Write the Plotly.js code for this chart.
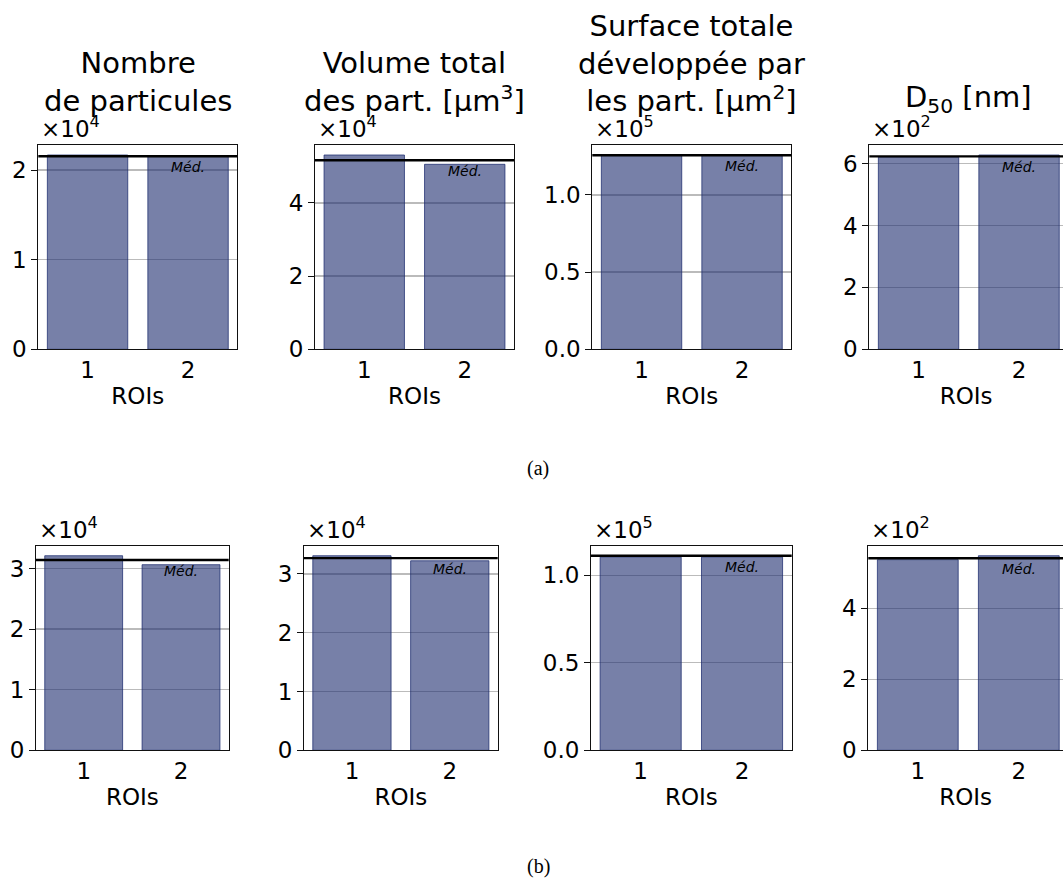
<!DOCTYPE html>
<html>
<head>
<meta charset="utf-8">
<script src="https://cdn.plot.ly/plotly-3.0.1.min.js"></script>
<style>html,body{margin:0;padding:0;background:#fff;}#chart{width:1063px;height:881px;}</style>
</head>
<body>
<div id="chart"></div>
<script>
// ---------- data ----------
const rois = [1, 2];
const roiLabels = ["1", "2"];
const panelTitles = [
  "Nombre<br>de particules",
  "Volume total<br>des part. [µm<sup>3</sup>]",
  "Surface totale<br>développée par<br>les part. [µm<sup>2</sup>]",
  "D<sub>50</sub> [nm]"
];
const exponents = [4, 4, 5, 2];
// (a)
const nombreA = [21680, 21560];
const volumeA = [53100, 50560];
const surfaceA = [125900, 125800];
const d50A = [621, 628];
const medianA = [21540, 51650, 125700, 623.5];
const tickStepA = [1, 2, 0.5, 2];
// (b)
const nombreB = [32110, 30630];
const volumeB = [33100, 32240];
const surfaceB = [110400, 110400];
const d50B = [537, 548];
const medianB = [31400, 32700, 111200, 541];
const tickStepB = [1, 1, 0.5, 2];
const medLabel = "Méd.";
const rowLabels = ["(a)", "(b)"];

// ---------- layout geometry (pixels) ----------
const W = 1063, H = 881;
const rows = [
  {top: 145.3, bottom: 349.3, lefts: [38.3, 315, 592.3, 869.3], widths: [199, 199, 199, 199], series: [nombreA, volumeA, surfaceA, d50A], med: medianA, steps: tickStepA, label: 468},
  {top: 546, bottom: 750.3, lefts: [36, 304, 591, 868.3], widths: [192.7, 193.7, 200.7, 200], series: [nombreB, volumeB, surfaceB, d50B], med: medianB, steps: tickStepB, label: 866}
];
const font = "DejaVu Sans";
const barFill = "rgba(28,43,110,0.6)";
const barEdge = "rgba(28,43,110,0.75)";

const data = [];
const layout = {
  width: W, height: H,
  margin: {l: 0, r: 0, t: 0, b: 0},
  paper_bgcolor: "#fff", plot_bgcolor: "#fff",
  showlegend: false,
  font: {family: font, color: "#000"},
  shapes: [], annotations: []
};

let k = 0;
rows.forEach((row, ri) => {
  for (let p = 0; p < 4; p++) {
    k++;
    const xid = k === 1 ? "x" : "x" + k;
    const yid = k === 1 ? "y" : "y" + k;
    const xa = k === 1 ? "xaxis" : "xaxis" + k;
    const ya = k === 1 ? "yaxis" : "yaxis" + k;
    const vals = row.series[p];
    const med = row.med[p];
    const scale = Math.pow(10, exponents[p]);
    const ymax = Math.max(...vals, med) * 1.05;

    data.push({
      type: "bar", x: rois, y: vals, xaxis: xid, yaxis: yid, width: 0.8,
      marker: {color: barFill, line: {color: barEdge, width: 1}},
      hoverinfo: "y"
    });

    const left = row.lefts[p], width = row.widths[p];
    let right = left + width;
    let r0 = 0.51, r1 = 2.49;
    let clipped = false;
    if (right > W) { r1 = r0 + (r1 - r0) * (W - left) / width; right = W; clipped = true; }

    const step = row.steps[p];
    const tv = [], tt = [];
    for (let v = 0; v <= ymax / scale + 1e-9; v += step) {
      tv.push(v * scale);
      tt.push(step < 1 ? v.toFixed(1) : String(Math.round(v)));
    }

    layout[xa] = {
      domain: [left / W, right / W], range: [r0, r1], anchor: yid,
      tickvals: rois, ticktext: roiLabels, ticks: "", showgrid: false, zeroline: false,
      showline: true, linecolor: "#111", linewidth: 1, mirror: true,
      tickfont: {family: font, size: 23, color: "#000"},
      title: {text: "ROIs", font: {family: font, size: 23, color: "#000"}, standoff: 5},
      automargin: false, fixedrange: true
    };
    layout[ya] = {
      domain: [1 - row.bottom / H, 1 - row.top / H], range: [0, ymax], anchor: xid,
      tickvals: tv, ticktext: tt, ticks: "outside", ticklen: 6, tickwidth: 1, tickcolor: "#111",
      showgrid: true, gridcolor: "rgba(120,120,120,0.5)", gridwidth: 1.3, zeroline: false,
      showline: true, linecolor: "#111", linewidth: 1, mirror: clipped ? false : true,
      tickfont: {family: font, size: 23, color: "#000"},
      automargin: false, fixedrange: true
    };

    // median line
    layout.shapes.push({
      type: "line", xref: xid + " domain", yref: yid, x0: 0, x1: 1, y0: med, y1: med,
      line: {color: "#000", width: 2.4}, layer: "above"
    });
    layout.annotations.push({
      xref: xid, yref: yid, x: rois[1], y: med, text: "<i>" + medLabel + "</i>",
      showarrow: false, xanchor: "center", yanchor: "top", yshift: -1,
      font: {family: font, size: 14, color: "#000"}
    });
    // offset (exponent) text
    layout.annotations.push({
      xref: "paper", yref: "paper", x: (left + 1) / W, y: 1 - (row.top - 1.5) / H,
      text: "×10<sup>" + exponents[p] + "</sup>", showarrow: false,
      xanchor: "left", yanchor: "bottom",
      font: {family: font, size: 23, color: "#000"}
    });
    // panel title (only visible on row a)
    if (ri === 0) {
      layout.annotations.push({
        xref: "paper", yref: "paper", x: (left + width / 2) / W, y: 1 - 120 / H,
        text: panelTitles[p], showarrow: false, xanchor: "center", yanchor: "bottom",
        font: {family: font, size: 29, color: "#000"}
      });
    }
  }
  layout.annotations.push({
    xref: "paper", yref: "paper", x: 538 / W, y: 1 - row.label / H,
    text: rowLabels[ri], showarrow: false, xanchor: "center", yanchor: "middle",
    font: {family: "Liberation Serif", size: 20, color: "#000"}
  });
});

Plotly.newPlot("chart", data, layout, {displayModeBar: false, staticPlot: true});
</script>
</body>
</html>
